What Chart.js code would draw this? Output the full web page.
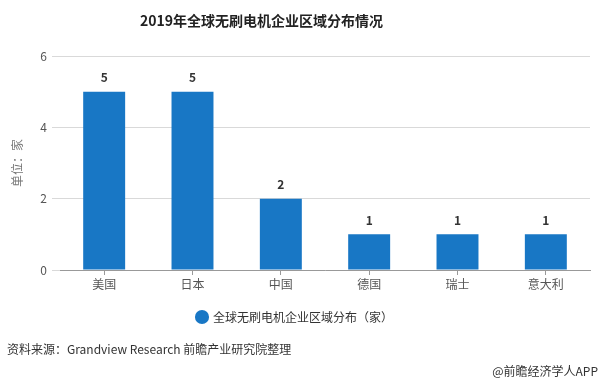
<!DOCTYPE html>
<html>
<head>
<meta charset="utf-8">
<script src="https://cdn.jsdelivr.net/npm/chart.js@4"></script>
<style>
html,body{margin:0;padding:0;background:#fff;}
#wrap{position:relative;width:603px;height:383px;overflow:hidden;font-family:"Noto Sans CJK SC","Noto Sans",sans-serif;}
#title{position:absolute;left:0;width:523px;top:10px;text-align:center;font-weight:bold;font-size:14px;color:#222;}
#src{position:absolute;left:7px;top:340px;font-size:12px;color:#333;}
#app{position:absolute;right:5px;top:362px;font-size:12px;color:#333;}
canvas{position:absolute;left:0;top:0;}
</style>
</head>
<body>
<div id="wrap">
<canvas id="c" width="603" height="383"></canvas>
<div id="title">2019年全球无刷电机企业区域分布情况</div>
<div id="src">资料来源：Grandview Research 前瞻产业研究院整理</div>
<div id="app">@前瞻经济学人APP</div>
</div>
<script>
const categories = ["美国", "日本", "中国", "德国", "瑞士", "意大利"];
const seriesName = "全球无刷电机企业区域分布（家）";
const values = [5, 5, 2, 1, 1, 1];
const yAxisTitle = "单位：家";

const barColor = "#1877C5";
const fontFam = '"Noto Sans CJK SC","Noto Sans",sans-serif';

const valueLabels = {
  id: 'valueLabels',
  afterDatasetsDraw(chart) {
    const ctx = chart.ctx;
    const meta = chart.getDatasetMeta(0);
    ctx.save();
    ctx.font = 'bold 12px ' + fontFam;
    ctx.fillStyle = '#333';
    ctx.textAlign = 'center';
    ctx.textBaseline = 'bottom';
    meta.data.forEach((bar, i) => {
      ctx.fillText(String(chart.data.datasets[0].data[i]), bar.x, bar.y - 8);
    });
    ctx.restore();
  }
};

new Chart(document.getElementById('c'), {
  type: 'bar',
  data: {
    labels: categories,
    datasets: [{
      label: seriesName,
      data: values,
      backgroundColor: barColor,
      borderWidth: 0,
      categoryPercentage: 0.95,
      barPercentage: 0.5
    }]
  },
  options: {
    responsive: false,
    animation: false,
    devicePixelRatio: 1,
    layout: { padding: { top: 56, right: 13, bottom: 50, left: 0 } },
    plugins: {
      title: { display: false },
      tooltip: { enabled: false },
      legend: {
        position: 'bottom',
        labels: {
          usePointStyle: true,
          pointStyle: 'circle',
          boxWidth: 10,
          boxHeight: 10,
          padding: 10,
          color: '#333',
          font: { size: 12, family: fontFam }
        }
      }
    },
    scales: {
      x: {
        offset: true,
        grid: {
          offset: false,
          drawOnChartArea: false,
          drawTicks: true,
          tickLength: 5,
          color: '#999'
        },
        border: { display: true, color: '#999', width: 1 },
        ticks: { color: '#555', font: { size: 12, family: fontFam }, padding: 2 },
        afterFit(scale) { scale.height = 31; }
      },
      y: {
        min: 0,
        max: 6,
        ticks: { stepSize: 2, color: '#555', font: { size: 12, family: fontFam }, padding: 5 },
        grid: { color: '#d9d9d9', tickLength: 8, drawTicks: true },
        border: { display: false },
        title: {
          display: true,
          text: yAxisTitle,
          color: '#777',
          font: { size: 12, family: fontFam },
          padding: { top: 10, bottom: 0 }
        },
        afterFit(scale) { scale.width = 60; }
      }
    }
  },
  plugins: [valueLabels]
});
</script>
</body>
</html>
